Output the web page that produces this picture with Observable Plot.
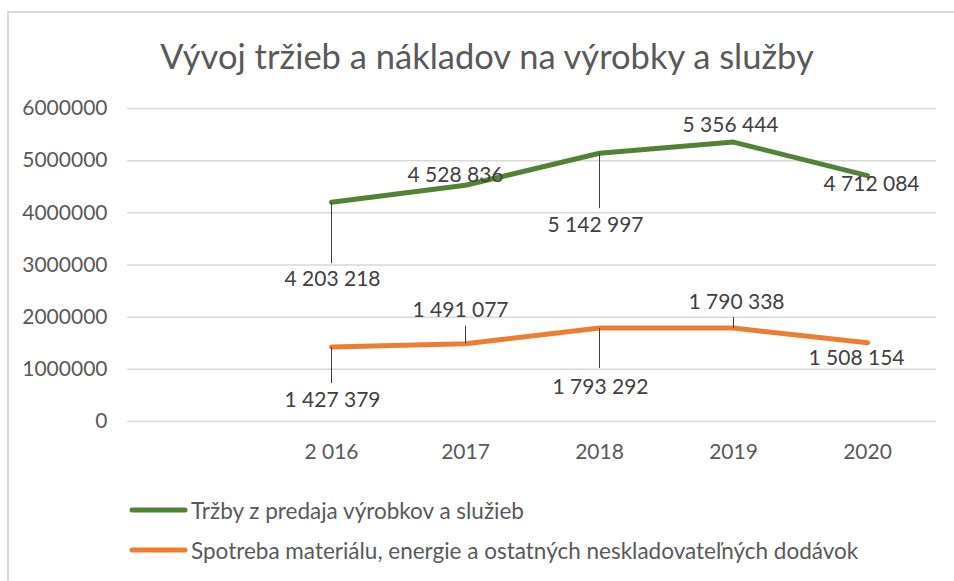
<!DOCTYPE html>
<html><head><meta charset="utf-8">
<script src="https://cdn.jsdelivr.net/npm/d3@7"></script>
<script src="https://cdn.jsdelivr.net/npm/@observablehq/plot@0.6"></script>
<style>
html,body{margin:0;padding:0;background:#fff;}
#page{position:relative;width:954px;height:581px;overflow:hidden;font-family:Lato,"Open Sans",sans-serif;color:#595959;}
#frame{position:absolute;left:7px;top:11px;width:1000px;height:700px;border:2px solid #d9d9d9;box-sizing:border-box;}
#title{position:absolute;left:10px;top:36px;width:954px;text-align:center;font-size:34.5px;line-height:40px;white-space:nowrap;}
#chart{position:absolute;left:0;top:90px;}
.leg{position:absolute;left:129px;height:30px;display:flex;align-items:center;font-size:22.5px;white-space:nowrap;}
.leg svg{display:block;margin-right:2px;}
</style>
</head><body>
<div id="page">
  <div id="frame"></div>
  <div id="title"></div>
  <div id="chart"></div>
  <div id="legend"></div>
</div>
<script>
const titleText = "Vývoj tržieb a nákladov na výrobky a služby";
const xCategories = ["", "2 016", "2017", "2018", "2019", "2020"];
const years = ["2 016", "2017", "2018", "2019", "2020"];
const seriesNames = ["Tržby z predaja výrobkov a služieb", "Spotreba materiálu, energie a ostatných neskladovateľných dodávok"];
const trzby = [4203218, 4528836, 5142997, 5356444, 4712084];
const spotreba = [1427379, 1491077, 1793292, 1790338, 1508154];
const yTicks = [0, 1000000, 2000000, 3000000, 4000000, 5000000, 6000000];
const colors = ["#548235", "#ed7d31"];

// label layout (pixel offsets from the point, leader length in px; + = down)
const labelLayout = [
  [{dx:1,dy:77,lead:61},{dx:-10,dy:-10,lead:0},{dx:-4,dy:72,lead:55},{dx:-3,dy:-17,lead:0},{dx:4,dy:9,lead:0}],
  [{dx:1,dy:53,lead:36},{dx:-5,dy:-33,lead:-18},{dx:1,dy:59,lead:40},{dx:3,dy:-26,lead:-11},{dx:-11,dy:15,lead:0}]
];

document.getElementById("title").textContent = titleText;

const fmt = v => d3.format(",")(v).replace(/,/g, " ");
const data = [];
[trzby, spotreba].forEach((arr, s) => arr.forEach((v, i) => data.push({series: seriesNames[s], s, year: years[i], i, value: v})));

const H = 390, mT = 18, mB = 59;
const pxToVal = 6000000 / (H - mT - mB);

const marks = [
  Plot.ruleY(yTicks, {stroke: "#d9d9d9", strokeWidth: 1.5}),
  Plot.line(data, {x: "year", y: "value", z: "series", stroke: d => colors[d.s], strokeWidth: 5, strokeLinecap: "round", strokeLinejoin: "round"})
];
data.forEach(d => {
  const L = labelLayout[d.s][d.i];
  if (L.lead !== 0) {
    marks.push(Plot.link([d], {x1: "year", x2: "year", y1: "value", y2: dd => dd.value - L.lead * pxToVal, stroke: "#404040", strokeWidth: 1}));
  }
});
data.forEach(d => {
  const L = labelLayout[d.s][d.i];
  marks.push(Plot.text([d], {x: "year", y: "value", text: dd => fmt(dd.value), dx: L.dx, dy: L.dy, fill: "#404040", fontSize: 21}));
});

const chart = Plot.plot({
  width: 954,
  height: H,
  marginTop: mT,
  marginBottom: mB,
  marginLeft: 127,
  marginRight: 18,
  style: {fontFamily: "Lato, 'Open Sans', sans-serif", fontSize: "21px", color: "#595959", background: "transparent"},
  x: {type: "point", domain: xCategories, padding: 0.5, label: null, tickSize: 0, tickPadding: 23},
  y: {domain: [0, 6000000], ticks: yTicks, tickFormat: d => String(d), label: null, tickSize: 0, tickPadding: 20},
  marks
});
document.getElementById("chart").appendChild(chart);

const legend = document.getElementById("legend");
seriesNames.forEach((name, k) => {
  const row = document.createElement("div");
  row.className = "leg";
  row.style.top = (495 + k * 40) + "px";
  row.innerHTML = `<svg width="60" height="10"><line x1="3" y1="5" x2="56" y2="5" stroke="${colors[k]}" stroke-width="5" stroke-linecap="round"/></svg><span></span>`;
  row.querySelector("span").textContent = name;
  legend.appendChild(row);
});
</script>
</body></html>
